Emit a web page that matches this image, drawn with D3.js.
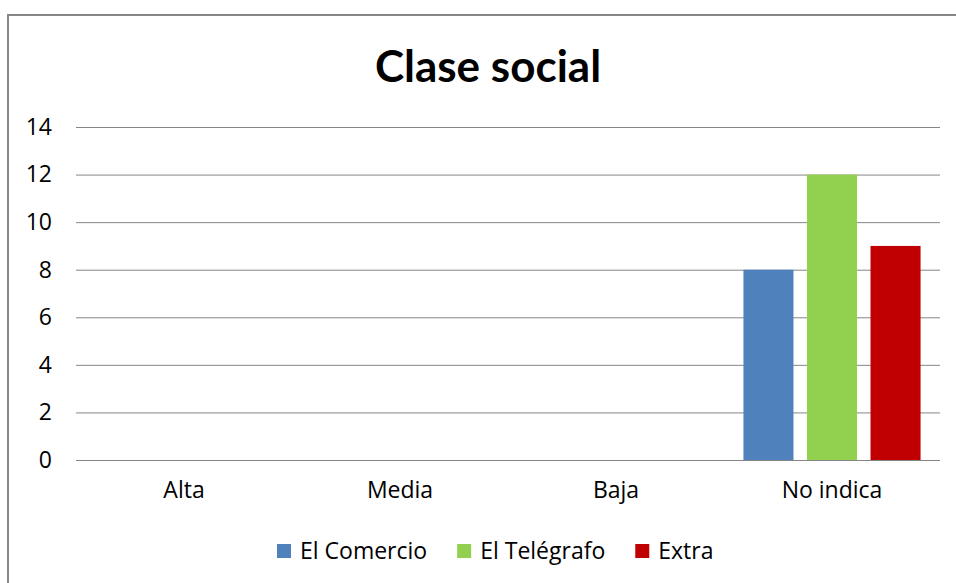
<!DOCTYPE html>
<html>
<head>
<meta charset="utf-8">
<style>
  body { margin: 0; background: #fff; }
  svg { display: block; font-family: "Open Sans", Lato, sans-serif; }
</style>
</head>
<body>
<div id="chart"></div>
<script src="https://d3js.org/d3.v7.min.js"></script>
<script>
  const categories = ["Alta", "Media", "Baja", "No indica"];
  const seriesNames = ["El Comercio", "El Telégrafo", "Extra"];
  const comercio = [0, 0, 0, 8];
  const telegrafo = [0, 0, 0, 12];
  const extra = [0, 0, 0, 9];
  const yTicks = [0, 2, 4, 6, 8, 10, 12, 14];
  const colors = ["#4F81BD", "#92D050", "#C00000"];

  const seriesValues = [comercio, telegrafo, extra];
  const width = 956, height = 583;
  const labelFont = "\"Open Sans\", sans-serif";

  const svg = d3.select("#chart").append("svg")
    .attr("width", width)
    .attr("height", height);

  // outer frame (runs off the right and bottom)
  svg.append("rect")
    .attr("x", 8).attr("y", 15)
    .attr("width", 960).attr("height", 600)
    .attr("fill", "#fff")
    .attr("stroke", "#878787")
    .attr("stroke-width", 2);

  svg.append("text")
    .attr("x", 488).attr("y", 82)
    .attr("text-anchor", "middle")
    .attr("font-family", "Lato, sans-serif")
    .attr("font-weight", "bold")
    .attr("font-size", 44)
    .attr("fill", "#000")
    .text("Clase social");

  const x0 = d3.scaleBand()
    .domain(categories)
    .range([76, 940])
    .paddingInner(0.18)
    .paddingOuter(0.09);

  const x1 = d3.scaleBand()
    .domain(seriesNames)
    .range([0, x0.bandwidth()])
    .paddingInner(0.2126);

  const y = d3.scaleLinear()
    .domain([0, 14])
    .range([460, 127]);

  // gridlines + labels
  const yAxis = svg.append("g")
    .attr("transform", "translate(76,0)")
    .call(d3.axisLeft(y).tickValues(yTicks).tickSize(-(940 - 76)).tickPadding(24));
  yAxis.select(".domain").remove();
  yAxis.selectAll(".tick line").attr("stroke", "#868686").attr("stroke-width", 1);
  yAxis.selectAll(".tick text")
    .attr("font-family", labelFont)
    .attr("font-size", 23)
    .attr("fill", "#000");

  // bars
  const groups = svg.append("g").selectAll("g")
    .data(categories)
    .enter().append("g")
    .attr("transform", d => `translate(${x0(d)},0)`);

  groups.selectAll("rect")
    .data((c, i) => seriesNames.map((s, j) => ({ s, v: seriesValues[j][i], c: colors[j] })))
    .enter().append("rect")
    .attr("x", d => x1(d.s))
    .attr("width", x1.bandwidth())
    .attr("y", d => y(d.v))
    .attr("height", d => y(0) - y(d.v))
    .attr("fill", d => d.c);

  // category labels
  const xAxis = svg.append("g")
    .attr("transform", "translate(0,460)")
    .call(d3.axisBottom(x0).tickSize(0).tickPadding(22));
  xAxis.select(".domain").remove();
  xAxis.selectAll(".tick text")
    .attr("font-family", labelFont)
    .attr("font-size", 23)
    .attr("fill", "#000");

  // legend
  const legend = svg.append("g");
  let lx = 277;
  seriesNames.forEach((name, i) => {
    legend.append("rect")
      .attr("x", lx).attr("y", 544)
      .attr("width", 14).attr("height", 14)
      .attr("fill", colors[i]);
    const t = legend.append("text")
      .attr("x", lx + 23).attr("y", 559)
      .attr("font-family", labelFont)
      .attr("font-size", 23)
      .attr("fill", "#000")
      .text(name);
    lx += 23 + t.node().getComputedTextLength() + 30;
  });
</script>
</body>
</html>
